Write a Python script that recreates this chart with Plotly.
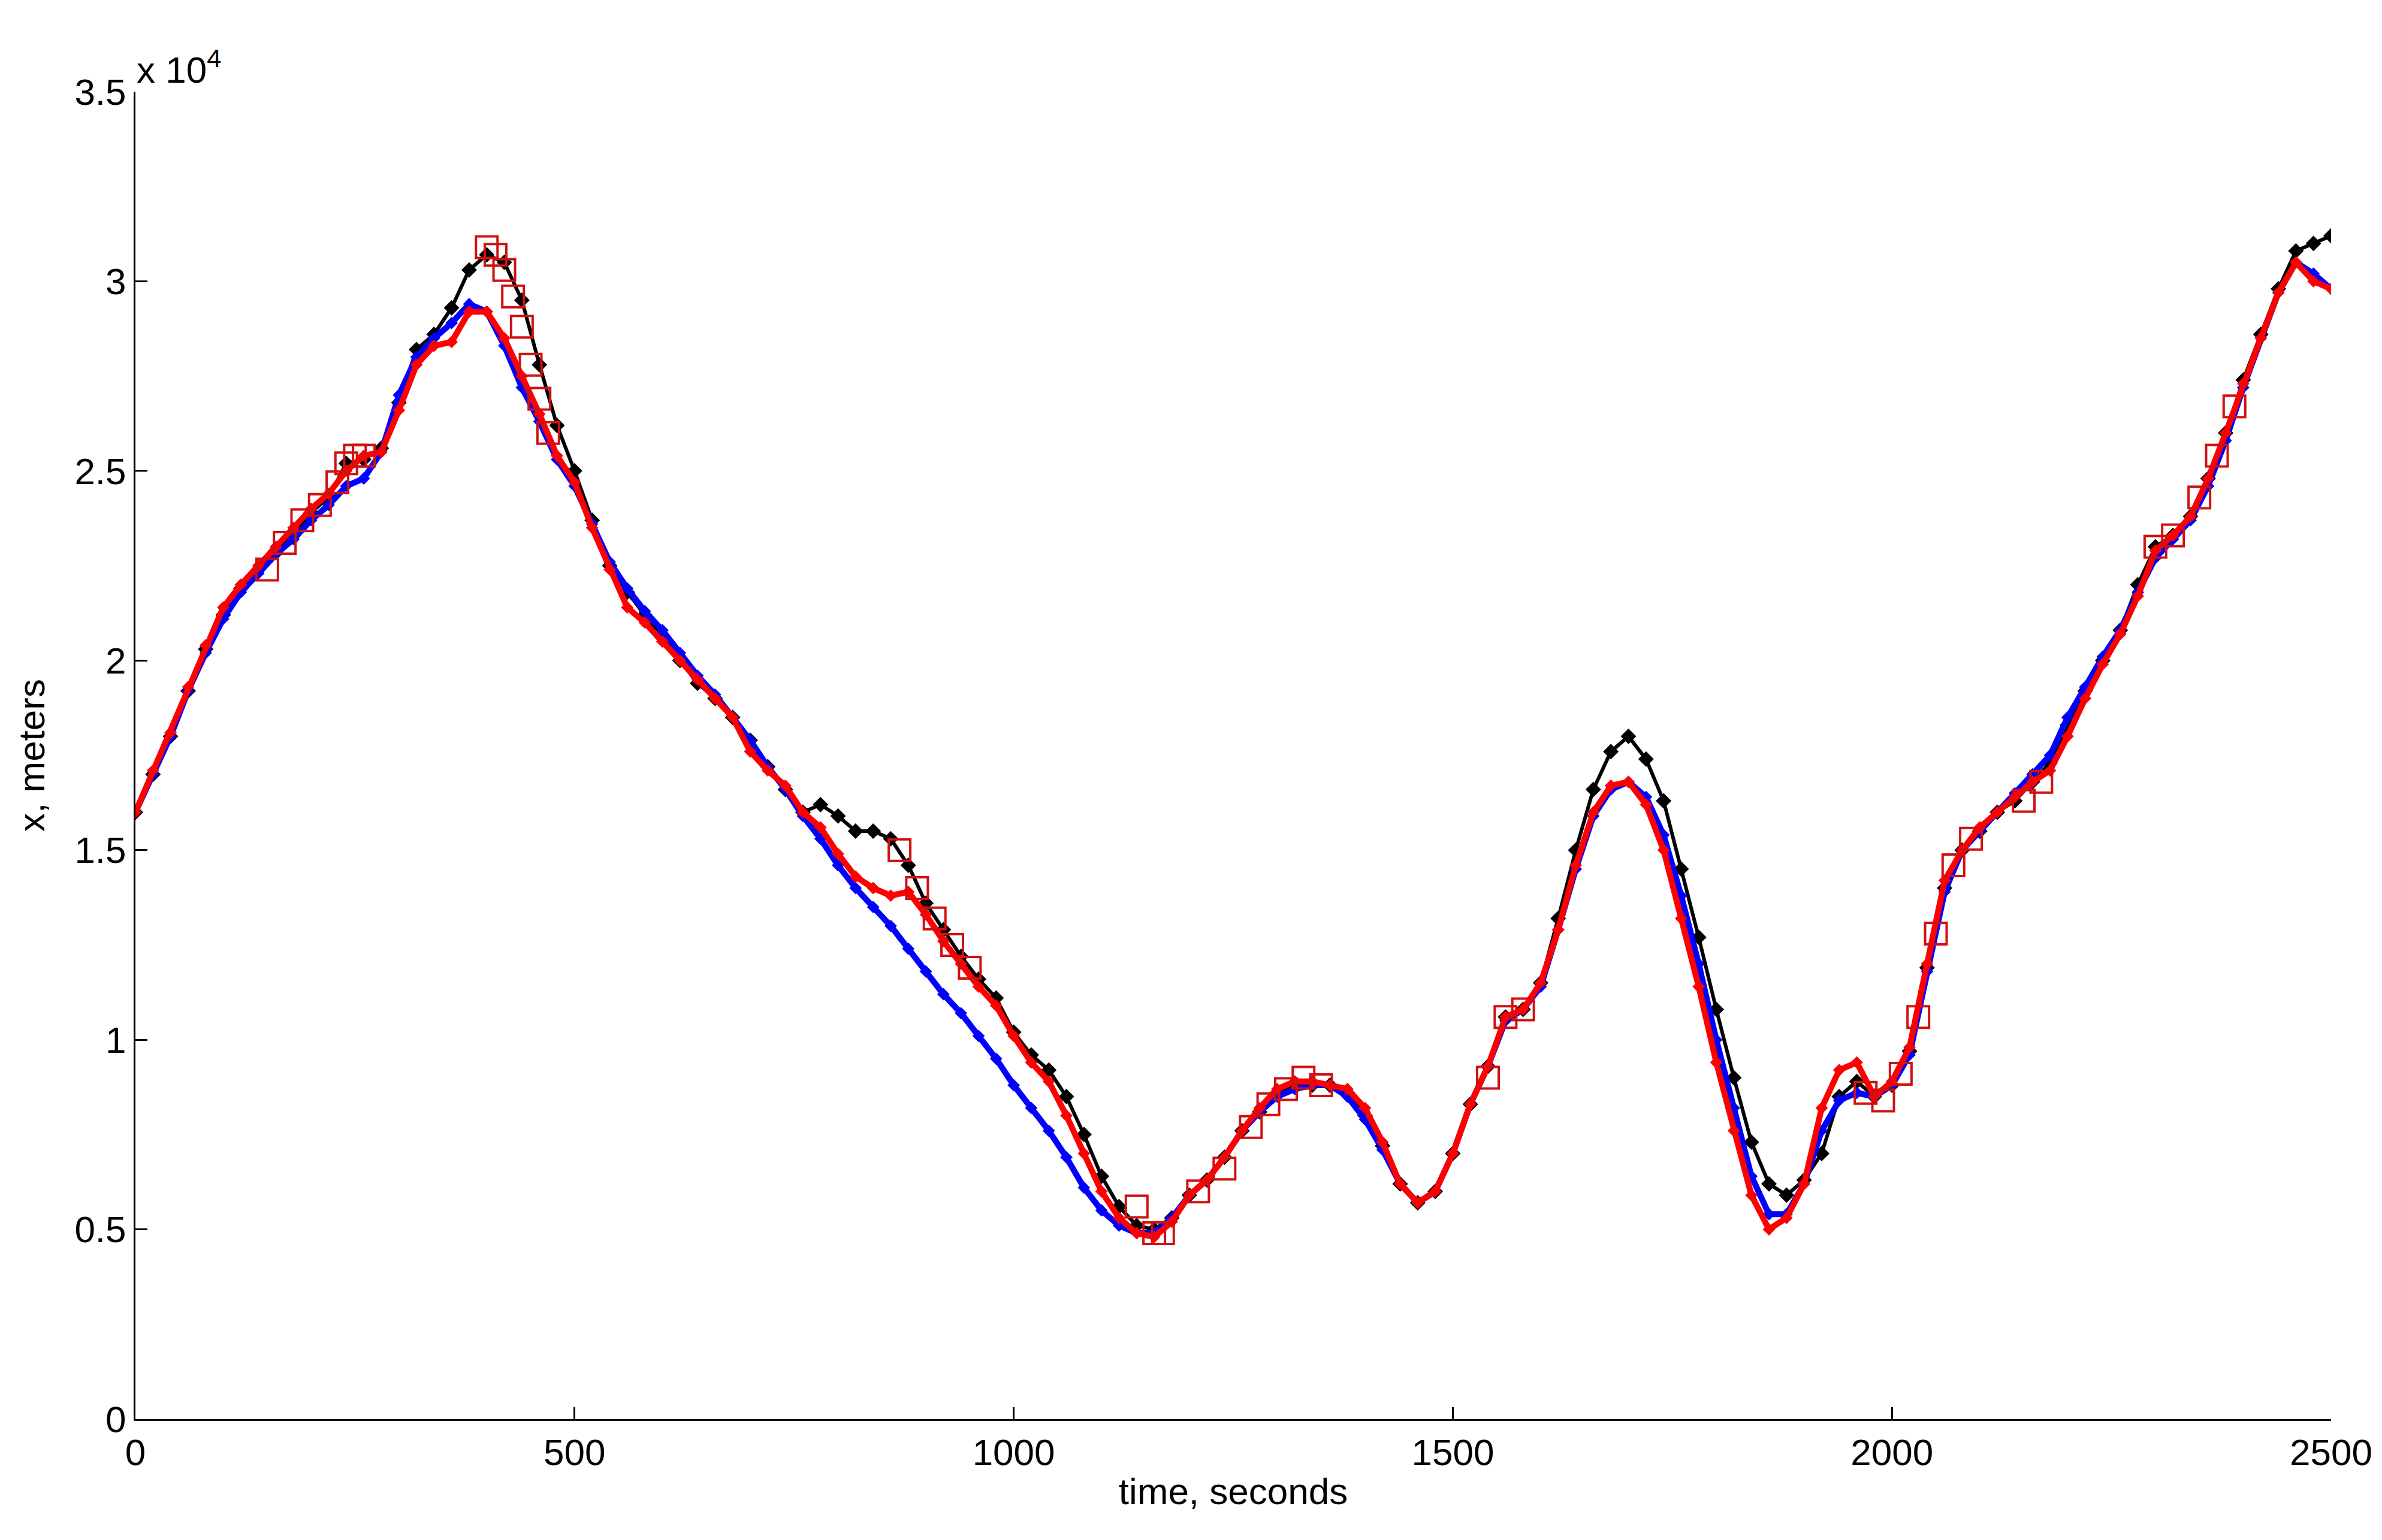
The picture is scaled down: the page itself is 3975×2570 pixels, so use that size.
import plotly.graph_objects as go

t = list(range(0, 2501, 20))

black = [16, 17, 18, 19.2, 20.3, 21.2, 21.9, 22.4, 22.9, 23.3, 23.9, 24.3, 25.2, 25.3, 25.6, 26.8,
         28.2, 28.6, 29.3, 30.3, 30.7, 30.5, 29.5, 27.8, 26.2, 25, 23.7, 22.5, 21.8, 21.2, 20.6,
         20, 19.4, 19, 18.5, 17.9, 17.2, 16.6, 16.0, 16.2, 15.9, 15.5, 15.5, 15.3, 14.6, 13.6,
         12.9, 12.2, 11.6, 11.1, 10.2, 9.6, 9.2, 8.5, 7.5, 6.4, 5.6, 5.1, 5.0, 5.3, 5.9, 6.3,
         6.9, 7.6, 8.1, 8.6, 8.8, 8.8, 8.8, 8.6, 8.0, 7.2, 6.2, 5.7, 6.0, 7.0, 8.3, 9.3, 10.6,
         10.8, 11.5, 13.2, 15.0, 16.6, 17.6, 18.0, 17.4, 16.3, 14.5, 12.7, 10.8, 9.0, 7.3, 6.2,
         5.9, 6.3, 7.0, 8.5, 8.9, 8.5, 8.8, 9.7, 11.9, 14.0, 15.0, 15.5, 16.0, 16.3, 16.8, 17.3,
         18.3, 19.2, 20.0, 20.8, 22.0, 23.0, 23.3, 23.8, 24.8, 26.0, 27.4, 28.6, 29.8, 30.8,
         31.0, 31.2]

blue = [16, 17, 18, 19.2, 20.2, 21.1, 21.8, 22.3, 22.8, 23.2, 23.7, 24.1, 24.6, 24.8, 25.5, 27.0,
        28.0, 28.5, 28.9, 29.4, 29.2, 28.3, 27.2, 26.3, 25.3, 24.6, 23.6, 22.6, 21.9, 21.3, 20.8,
        20.2, 19.6, 19.1, 18.5, 17.9, 17.2, 16.6, 15.9, 15.3, 14.6, 14.0, 13.5, 13.0, 12.4, 11.8,
        11.2, 10.7, 10.1, 9.5, 8.8, 8.2, 7.6, 6.9, 6.1, 5.5, 5.1, 4.9, 4.9, 5.3, 5.9, 6.3,
        6.9, 7.6, 8.1, 8.5, 8.7, 8.8, 8.8, 8.5, 7.9, 7.1, 6.2, 5.7, 6.0, 7.0, 8.3, 9.3, 10.5,
        10.8, 11.4, 12.9, 14.5, 15.9, 16.6, 16.8, 16.4, 15.4, 13.8, 12.0, 10.0, 8.2, 6.4, 5.4,
        5.4, 6.2, 7.6, 8.4, 8.6, 8.5, 8.8, 9.6, 11.8, 13.9, 15.0, 15.5, 16.0, 16.5, 17.0, 17.5,
        18.5, 19.3, 20.1, 20.8, 21.8, 22.7, 23.2, 23.7, 24.6, 25.8, 27.2, 28.5, 29.7, 30.5,
        30.2, 29.8]

red = [16, 17.1, 18.1, 19.3, 20.4, 21.4, 22.0, 22.5, 23.0, 23.5, 24.0, 24.4, 25.0, 25.4, 25.5, 26.6,
       27.8, 28.3, 28.4, 29.2, 29.2, 28.5, 27.5, 26.5, 25.4, 24.7, 23.5, 22.4, 21.4, 21.0, 20.5,
       20.0, 19.5, 19.0, 18.5, 17.6, 17.1, 16.7, 16.0, 15.6, 14.9, 14.3, 14.0, 13.8, 13.9, 13.3,
       12.6, 12.0, 11.4, 10.9, 10.1, 9.4, 8.9, 8.0, 7.0, 6.0, 5.3, 4.9, 4.8, 5.2, 5.9, 6.3,
       6.9, 7.6, 8.2, 8.7, 8.9, 8.9, 8.8, 8.7, 8.2, 7.3, 6.2, 5.7, 6.0, 7.0, 8.3, 9.3, 10.6,
       10.8, 11.5, 12.9, 14.6, 16.0, 16.7, 16.8, 16.2, 15.0, 13.2, 11.4, 9.4, 7.6, 5.9, 5.0,
       5.3, 6.2, 8.2, 9.2, 9.4, 8.5, 8.9, 9.8, 12.0, 14.2, 15.0, 15.6, 16.0, 16.4, 16.8, 17.1,
       18.0, 19.0, 19.9, 20.7, 21.7, 22.9, 23.3, 23.8, 24.8, 26.0, 27.3, 28.5, 29.7, 30.5,
       30.0, 29.8]

sq_t = [150, 170, 190, 210, 230, 240, 250, 260, 400, 410, 420, 430, 440, 450, 460, 470,
        870, 890, 910, 930, 950, 1140, 1160, 1170, 1210, 1240, 1270, 1290, 1310, 1330, 1350,
        1540, 1560, 1580, 1970, 1990, 2010, 2030, 2050, 2070, 2090, 2150, 2170, 2300, 2320,
        2350, 2370, 2390]
sq_x = [22.4, 23.1, 23.7, 24.1, 24.7, 25.2, 25.4, 25.4, 30.9, 30.7, 30.3, 29.6, 28.8, 27.8, 26.9,
        26.0, 15.0, 14.0, 13.2, 12.5, 11.9, 5.6, 4.9, 4.9, 6.0, 6.6, 7.7, 8.3, 8.7, 9.0, 8.8,
        9.0, 10.6, 10.8, 8.6, 8.4, 9.1, 10.6, 12.8, 14.6, 15.3, 16.3, 16.8, 23.0, 23.3,
        24.3, 25.4, 26.7]

FONT = dict(family="Liberation Sans", size=62, color="black")

fig = go.Figure()
fig.add_trace(go.Scatter(x=t, y=[v * 1000 for v in black], mode="lines+markers",
                         line=dict(color="black", width=6),
                         marker=dict(symbol="diamond", size=20, color="black")))
fig.add_trace(go.Scatter(x=t, y=[v * 1000 for v in blue], mode="lines+markers",
                         line=dict(color="blue", width=10),
                         marker=dict(symbol="diamond", size=16, color="blue")))
fig.add_trace(go.Scatter(x=t, y=[v * 1000 for v in red], mode="lines+markers",
                         line=dict(color="red", width=10),
                         marker=dict(symbol="diamond", size=16, color="red")))
fig.add_trace(go.Scatter(x=sq_t, y=[v * 1000 for v in sq_x], mode="markers",
                         marker=dict(symbol="square-open", size=36, color="#d01010",
                                     line=dict(width=4))))

ax = dict(showgrid=False, zeroline=False, showline=True, linecolor="black", linewidth=3,
          ticks="inside", ticklen=20, tickwidth=3, tickcolor="black", tickfont=FONT)
fig.update_xaxes(range=[0, 2500], dtick=500,
                 title=dict(text="time, seconds", standoff=10, font=FONT), **ax)
fig.update_yaxes(range=[0, 35000], tickvals=[0, 5000, 10000, 15000, 20000, 25000, 30000, 35000],
                 ticktext=["0", "0.5", "1", "1.5", "2", "2.5", "3", "3.5"],
                 title=dict(text="x, meters", standoff=30, font=FONT), **ax)
fig.add_annotation(x=0, y=1, xref="paper", yref="paper", xanchor="left", yanchor="bottom",
                   showarrow=False, text="x 10<sup>4</sup>", font=FONT)
fig.update_layout(width=3975, height=2570, showlegend=False, plot_bgcolor="white",
                  paper_bgcolor="white", margin=dict(l=218, r=93, t=145, b=210))
fig.write_html("out.html")
